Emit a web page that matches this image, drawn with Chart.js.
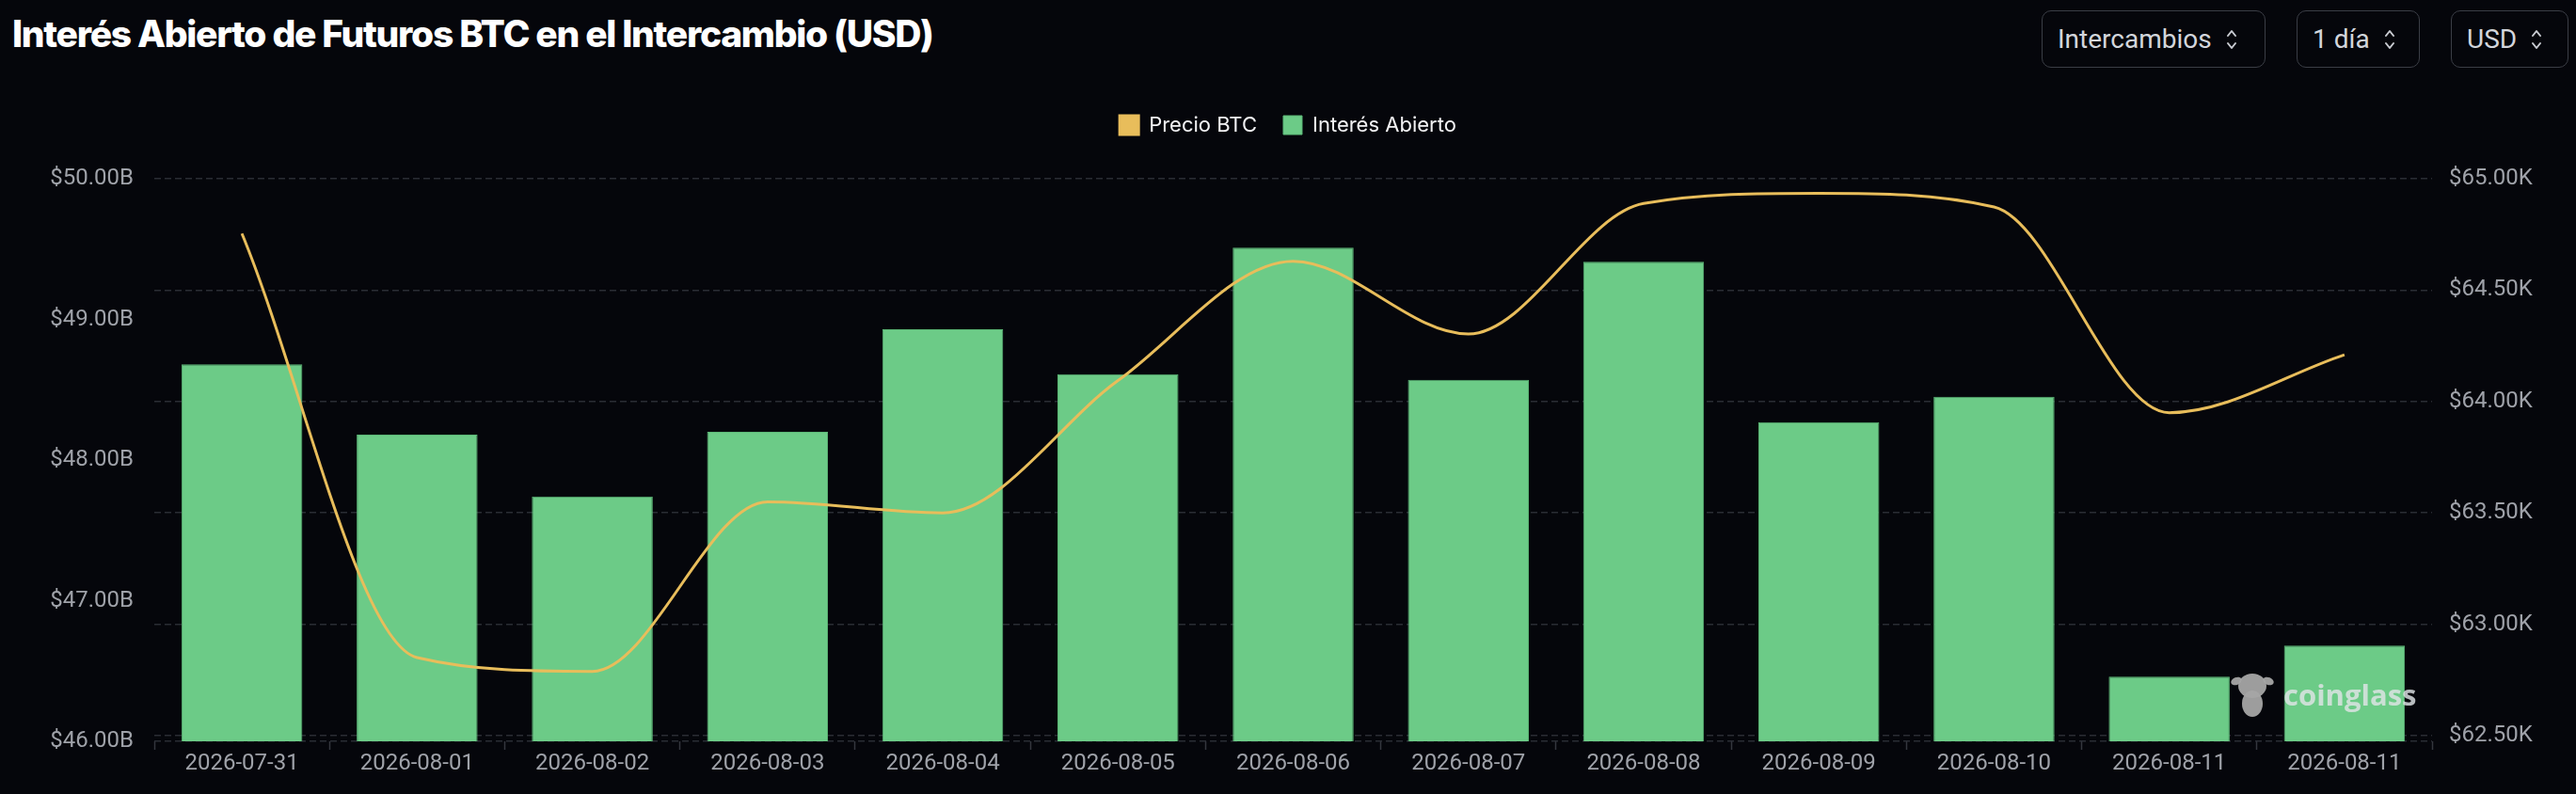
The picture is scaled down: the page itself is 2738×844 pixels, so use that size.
<!DOCTYPE html>
<html lang="es">
<head>
<meta charset="utf-8">
<title>Interés Abierto de Futuros BTC</title>
<script src="https://cdn.jsdelivr.net/npm/chart.js@4.4.1/dist/chart.umd.min.js"></script>
<style>
  html, body { margin: 0; padding: 0; background: #05060b; }
  body { width: 2738px; height: 844px; position: relative; overflow: hidden; font-family: Roboto, sans-serif; }
  #chart-wrap { position: absolute; left: 0; top: 0; width: 2738px; height: 844px; }
  .title {
    position: absolute; left: 13px; top: 12px;
    font-family: Inter, sans-serif; font-weight: 800; font-size: 39px;
    letter-spacing: -1.3px; color: #ffffff; white-space: nowrap;
  }
  .select {
    position: absolute; top: 11px; height: 61px; box-sizing: border-box;
    border: 1.5px solid #3a3d45; border-radius: 10px;
    color: #d3d6dc; font-size: 28px; display: flex; align-items: center;
    padding-left: 16px; gap: 14px;
  }
  .select svg { width: 14px; height: 28px; }
</style>
</head>
<body>
<div class="title">Interés Abierto de Futuros BTC en el Intercambio (USD)</div>

<div class="select" style="left:2170px; width:238px;">Intercambios
  <svg viewBox="0 0 14 28"><path d="M3 10 L7 5 L11 10 M3 18 L7 23 L11 18" fill="none" stroke="#c9ccd2" stroke-width="2" stroke-linecap="round" stroke-linejoin="round"/></svg>
</div>
<div class="select" style="left:2441px; width:131px;">1 día
  <svg viewBox="0 0 14 28"><path d="M3 10 L7 5 L11 10 M3 18 L7 23 L11 18" fill="none" stroke="#c9ccd2" stroke-width="2" stroke-linecap="round" stroke-linejoin="round"/></svg>
</div>
<div class="select" style="left:2605px; width:125px;">USD
  <svg viewBox="0 0 14 28"><path d="M3 10 L7 5 L11 10 M3 18 L7 23 L11 18" fill="none" stroke="#c9ccd2" stroke-width="2" stroke-linecap="round" stroke-linejoin="round"/></svg>
</div>

<div id="chart-wrap"><canvas id="oi-chart"></canvas></div>

<script>
// dates on the x axis (the last day shows up twice in the source)
const dates = [
  '2026-07-31', '2026-08-01', '2026-08-02', '2026-08-03', '2026-08-04',
  '2026-08-05', '2026-08-06', '2026-08-07', '2026-08-08', '2026-08-09',
  '2026-08-10', '2026-08-11', '2026-08-11'
];

// open interest, billions USD
const openInterest = [48.68, 48.18, 47.74, 48.20, 48.93, 48.61, 49.51, 48.57, 49.41, 48.27, 48.45, 46.46, 46.68];

// BTC price, thousands USD
const btcPrice = [64.754, 62.851, 62.789, 63.550, 63.500, 64.094, 64.630, 64.303, 64.889, 64.935, 64.873, 63.950, 64.210];

// tick values for both axes
const oiTicks = [46, 47, 48, 49, 50];
const priceTicks = [62.5, 63, 63.5, 64, 64.5, 65];

const GOLD = '#e8bd5b';
const GREEN = '#6ccb87';
const GRID = '#2a2d34';
const TICK_TEXT = '#9fa2a9';
const TICK_FONT = { family: 'Roboto', size: 24 };

// pushes the plot area down below the legend
const legendSpacer = {
  id: 'legendSpacer',
  beforeInit(chart) {
    const origFit = chart.legend.fit;
    chart.legend.fit = function () {
      origFit.bind(chart.legend)();
      this.height = 96;
    };
  }
};

// coinglass watermark in the lower right
const watermark = {
  id: 'watermark',
  afterDatasetsDraw(chart) {
    const { ctx } = chart;
    const x = 2394;
    const y = 738;
    ctx.save();
    // little mascot blob
    ctx.fillStyle = 'rgba(165,165,165,0.95)';
    ctx.beginPath();
    ctx.ellipse(x, y - 9, 15, 13, 0, 0, Math.PI * 2);
    ctx.fill();
    ctx.beginPath();
    ctx.ellipse(x, y + 10, 11, 14, 0, 0, Math.PI * 2);
    ctx.fill();
    ctx.beginPath();
    ctx.ellipse(x - 17, y - 14, 6, 4, -0.4, 0, Math.PI * 2);
    ctx.ellipse(x + 17, y - 14, 6, 4, 0.4, 0, Math.PI * 2);
    ctx.fill();
    ctx.fillStyle = 'rgba(225,228,230,0.82)';
    ctx.font = 'bold 31px "Open Sans", sans-serif';
    ctx.textBaseline = 'alphabetic';
    ctx.fillText('coinglass', 2427, 750);
    ctx.restore();
  }
};

new Chart(document.getElementById('oi-chart'), {
  data: {
    labels: dates,
    datasets: [
      {
        type: 'line',
        label: 'Precio BTC',
        data: btcPrice,
        yAxisID: 'yPrice',
        borderColor: GOLD,
        backgroundColor: GOLD,
        borderWidth: 3,
        pointRadius: 0,
        cubicInterpolationMode: 'monotone',
        order: 0
      },
      {
        type: 'bar',
        label: 'Interés Abierto',
        data: openInterest,
        yAxisID: 'yOI',
        backgroundColor: GREEN,
        borderColor: '#5cb877',
        borderWidth: 1,
        barPercentage: 0.69,
        categoryPercentage: 1,
        order: 1
      }
    ]
  },
  options: {
    responsive: true,
    maintainAspectRatio: false,
    animation: false,
    layout: { padding: { top: 94, left: 0, right: 0, bottom: 0 } },
    plugins: {
      tooltip: { enabled: false },
      legend: {
        position: 'top',
        labels: {
          color: '#f2f2f4',
          font: { family: 'Inter', size: 22 },
          boxWidth: 20,
          boxHeight: 20,
          padding: 28
        }
      }
    },
    scales: {
      x: {
        offset: true,
        grid: {
          display: true,
          drawOnChartArea: false,
          drawTicks: true,
          tickLength: 9,
          tickColor: '#34373e',
          tickWidth: 1.5
        },
        border: { display: false },
        ticks: {
          color: TICK_TEXT,
          font: TICK_FONT,
          padding: 1,
          maxRotation: 0,
          autoSkip: false
        },
        afterFit(scale) { scale.height = 56; }
      },
      yOI: {
        position: 'left',
        min: 46,
        max: 50,
        afterBuildTicks(scale) { scale.ticks = oiTicks.map(v => ({ value: v })); },
        grid: { display: false, drawTicks: false },
        border: { display: false },
        ticks: {
          color: TICK_TEXT,
          font: TICK_FONT,
          padding: 22,
          callback: v => `$${v.toFixed(2)}B`
        },
        afterFit(scale) { scale.width = 164; }
      },
      yPrice: {
        position: 'right',
        min: 62.475,
        max: 65,
        // extra tick at the bottom gives the dashed base line
        afterBuildTicks(scale) {
          scale.ticks = [62.475, ...priceTicks].map(v => ({ value: v }));
        },
        grid: { color: GRID, lineWidth: 1.5, drawTicks: false },
        border: { display: false, dash: [7, 4] },
        ticks: {
          color: TICK_TEXT,
          font: TICK_FONT,
          padding: 18,
          callback: v => (v < 62.5 ? '' : `$${v.toFixed(2)}K`)
        },
        afterFit(scale) { scale.width = 153; }
      }
    }
  },
  plugins: [legendSpacer, watermark]
});
</script>
</body>
</html>
